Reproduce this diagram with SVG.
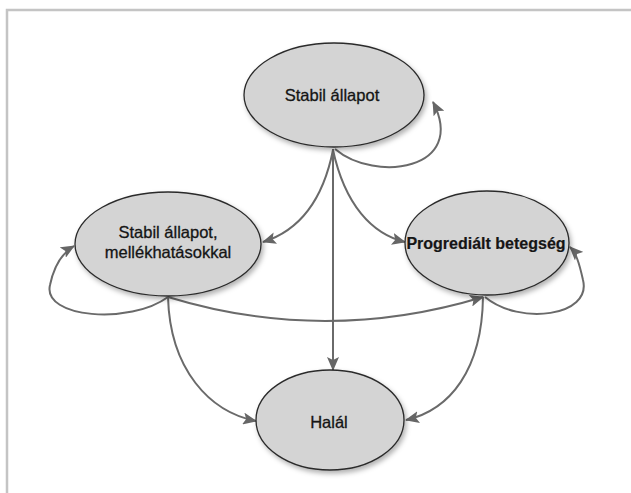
<svg xmlns="http://www.w3.org/2000/svg" width="631" height="493" viewBox="0 0 631 493">
<defs>
<marker id="ah" markerUnits="userSpaceOnUse" markerWidth="14" markerHeight="12" viewBox="0 0 14 12" refX="13" refY="6" orient="auto">
<path d="M0,0 L14,6 L0,12 L3,6 Z" fill="#666"/>
</marker>
<filter id="sh" x="-20%" y="-20%" width="150%" height="150%">
<feDropShadow dx="2" dy="3" stdDeviation="2.5" flood-color="#000" flood-opacity="0.3"/>
</filter>
<style>
.node ellipse{fill:#d4d4d4;stroke:#2a2a2a;stroke-width:1.3;filter:url(#sh)}
.node text{font-family:"Liberation Sans",Arial,sans-serif;font-size:16.5px;fill:#151515;stroke:#151515;stroke-width:0.3;text-anchor:middle}
#connectors path{fill:none;stroke:#6a6a6a;stroke-width:2;marker-end:url(#ah)}
</style>
</defs>
<rect width="631" height="493" fill="#fff"/>
<path d="M7,493 V10 H631" fill="none" stroke="#c4c4c4" stroke-width="2.5"/>
<g id="connectors">
<path d="M335,149 C375,183 468,170 433,102"/>
<path d="M333,149 V370"/>
<path d="M333,150 C322,205 295,232 263,242"/>
<path d="M333,150 C345,205 372,234 405,242"/>
<path d="M168,297 C130,325 42,318 50,285 C54,266 62,253 74,246"/>
<path d="M168,297 Q325,345 483,297"/>
<path d="M168,297 C170,370 210,412 256,421"/>
<path d="M483,297 C482,370 450,410 406,420"/>
<path d="M485,297 C520,326 592,316 583,280 C579,262 576,253 570,247"/>
</g>
<g id="node-stabil" class="node">
<ellipse cx="334" cy="95" rx="90" ry="52"/>
<text x="332" y="101">Stabil állapot</text>
</g>
<g id="node-mellek" class="node">
<ellipse cx="168" cy="244" rx="93" ry="52"/>
<text x="168" y="238">Stabil állapot,</text>
<text x="168" y="258">mellékhatásokkal</text>
</g>
<g id="node-progr" class="node">
<ellipse cx="487" cy="243" rx="82" ry="52"/>
<text x="486" y="249" style="font-weight:bold;font-size:16px;stroke-width:0.2">Progrediált betegség</text>
</g>
<g id="node-halal" class="node">
<ellipse cx="330" cy="420" rx="74" ry="50"/>
<text x="329" y="428">Halál</text>
</g>
</svg>
